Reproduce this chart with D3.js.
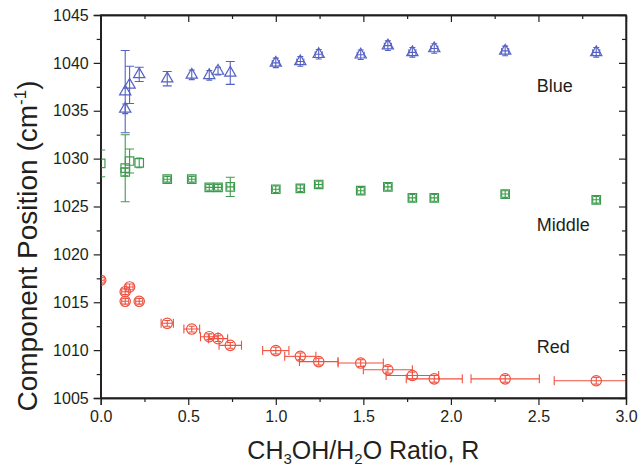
<!DOCTYPE html>
<html>
<head>
<meta charset="utf-8">
<script src="https://cdn.jsdelivr.net/npm/d3@7"></script>
<style>
body { margin: 0; background: #fff; }
text { font-family: Arial, 'Liberation Sans', Helvetica, sans-serif; fill: #231f20; }
</style>
</head>
<body>
<svg id="chart"></svg>
<script>
const ratio = [0, 0.14, 0.14, 0.165, 0.22, 0.38, 0.52, 0.62, 0.67, 0.74, 1.0, 1.14, 1.245, 1.485, 1.64, 1.78, 1.905, 2.31, 2.83],
redPos = [1017.3, 1016.1, 1015.1, 1016.6, 1015.1, 1012.8, 1012.2, 1011.4, 1011.2, 1010.5, 1009.95, 1009.35, 1008.8, 1008.65, 1007.95, 1007.35, 1007.0, 1007.0, 1006.8],
redErrX = [0.02, 0.02, 0.02, 0.02, 0.02, 0.035, 0.045, 0.05, 0.055, 0.064, 0.075, 0.089, 0.11, 0.129, 0.14, 0.15, 0.16, 0.195, 0.24],
redErrY = [0.3, 0.3, 0.3, 0.3, 0.3, 0.3, 0.3, 0.3, 0.3, 0.3, 0.35, 0.35, 0.35, 0.35, 0.35, 0.35, 0.35, 0.35, 0.35],
greenPos = [1029.5, 1029.0, 1028.6, 1029.75, 1029.55, 1027.85, 1027.85, 1027.0, 1027.0, 1027.05, 1026.8, 1026.9, 1027.3, 1026.65, 1027.05, 1025.9, 1025.9, 1026.3, 1025.7],
greenErrX = [0, 0, 0, 0, 0, 0.02, 0.02, 0.02, 0.02, 0.02, 0.02, 0.02, 0.02, 0.02, 0.02, 0.02, 0.02, 0.02, 0.02],
greenErrY = [1.4, 3.5, 0.4, 1.25, 0.5, 0.3, 0.3, 0.3, 0.3, 1.0, 0.35, 0.35, 0.35, 0.35, 0.35, 0.35, 0.35, 0.35, 0.35],
blueRatio = ratio.slice(1),
bluePos = [1035.2, 1037.0, 1037.7, 1038.8, 1038.35, 1038.75, 1038.7, 1039.15, 1038.95, 1040.0, 1040.15, 1040.9, 1040.85, 1041.8, 1041.1, 1041.5, 1041.25, 1041.1],
blueErrX = [0, 0, 0, 0, 0, 0, 0, 0, 0, 0.02, 0.02, 0.02, 0.02, 0.02, 0.02, 0.02, 0.02, 0.02],
blueErrY = [0.5, 4.3, 1.95, 0.75, 0.75, 0.5, 0.5, 0.4, 1.2, 0.5, 0.5, 0.5, 0.5, 0.5, 0.5, 0.5, 0.5, 0.5],
xTicks = [0, 0.5, 1.0, 1.5, 2.0, 2.5, 3.0],
yTicks = [1005, 1010, 1015, 1020, 1025, 1030, 1035, 1040, 1045],
seriesNames = ['Blue', 'Middle', 'Red'],
labelPos = [1037.0, 1022.4, 1009.7];

const margin = {top: 15, right: 14, bottom: 70, left: 100.7},
width = 640 - margin.left - margin.right,
height = 468 - margin.top - margin.bottom;

const x = d3.scaleLinear().domain([0, 3]).range([0, width]);
const y = d3.scaleLinear().domain([1005, 1045]).range([height, 0]);

const svg = d3.select('#chart')
.attr('width', 640)
.attr('height', 468);

const chart = svg.append('g')
.attr('transform', `translate(${margin.left},${margin.top})`);

svg.append('defs').append('clipPath')
.attr('id', 'plot-clip')
.append('rect')
.attr('width', width)
.attr('height', height);

const minorX = d3.range(0.25, 3, 0.5),
minorY = d3.range(1007.5, 1045, 5);

const axisStyle = (g) => {
  g.selectAll('path').attr('stroke', '#231f20').attr('stroke-width', 1.3);
  g.selectAll('line').attr('stroke', '#231f20').attr('stroke-width', 1.2);
  g.selectAll('text').style('font-size', '16px').attr('fill', '#231f20');
};

chart.append('g')
.attr('transform', `translate(0,${height})`)
.call(d3.axisBottom(x).tickValues(xTicks).tickFormat(d3.format('.1f')).tickSize(7).tickPadding(6))
.call(axisStyle);

chart.append('g')
.attr('transform', `translate(0,${height})`)
.call(d3.axisBottom(x).tickValues(minorX).tickFormat('').tickSize(4).tickSizeOuter(0))
.call(axisStyle);

chart.append('g')
.call(d3.axisLeft(y).tickValues(yTicks).tickFormat(d3.format('d')).tickSize(7).tickPadding(5))
.call(axisStyle);

chart.append('g')
.call(d3.axisLeft(y).tickValues(minorY).tickFormat('').tickSize(4).tickSizeOuter(0))
.call(axisStyle);

chart.append('g')
.call(d3.axisTop(x).tickValues(xTicks).tickFormat('').tickSize(-7).tickSizeOuter(0))
.call(axisStyle);

chart.append('g')
.call(d3.axisTop(x).tickValues(minorX).tickFormat('').tickSize(-4).tickSizeOuter(0))
.call(axisStyle);

chart.append('g')
.attr('transform', `translate(${width},0)`)
.call(d3.axisRight(y).tickValues(yTicks).tickFormat('').tickSize(-7).tickSizeOuter(0))
.call(axisStyle);

chart.append('g')
.attr('transform', `translate(${width},0)`)
.call(d3.axisRight(y).tickValues(minorY).tickFormat('').tickSize(-4).tickSizeOuter(0))
.call(axisStyle);

const series = [
  {name: seriesNames[0], color: '#5562c4', shape: d3.symbolTriangle, size: 55, r: blueRatio, v: bluePos, ex: blueErrX, ey: blueErrY},
  {name: seriesNames[1], color: '#3d9b4c', shape: d3.symbolSquare, size: 72, r: ratio, v: greenPos, ex: greenErrX, ey: greenErrY},
  {name: seriesNames[2], color: '#f0513f', shape: d3.symbolCircle, size: 85, r: ratio, v: redPos, ex: redErrX, ey: redErrY}
];

const plot = chart.append('g')
.attr('clip-path', 'url(#plot-clip)');

series.forEach((s) => {
  const pts = s.r.map((r, i) => ({r: r, v: s.v[i], ex: s.ex[i], ey: s.ey[i]}));
  const g = plot.append('g')
    .attr('stroke', s.color)
    .attr('stroke-width', 1.1)
    .attr('fill', 'none');

  pts.forEach((d) => {
    const cx = x(d.r), cy = y(d.v);
    if (d.ey > 0) {
      const cap = d.ey > 0.6 ? 4.5 : 3;
      g.append('line').attr('x1', cx).attr('x2', cx).attr('y1', y(d.v - d.ey)).attr('y2', y(d.v + d.ey));
      g.append('line').attr('x1', cx - cap).attr('x2', cx + cap).attr('y1', y(d.v - d.ey)).attr('y2', y(d.v - d.ey));
      g.append('line').attr('x1', cx - cap).attr('x2', cx + cap).attr('y1', y(d.v + d.ey)).attr('y2', y(d.v + d.ey));
    }
    if (d.ex > 0) {
      const cap = d.ex > 0.03 ? 4.5 : 3;
      g.append('line').attr('x1', x(d.r - d.ex)).attr('x2', x(d.r + d.ex)).attr('y1', cy).attr('y2', cy);
      g.append('line').attr('x1', x(d.r - d.ex)).attr('x2', x(d.r - d.ex)).attr('y1', cy - cap).attr('y2', cy + cap);
      g.append('line').attr('x1', x(d.r + d.ex)).attr('x2', x(d.r + d.ex)).attr('y1', cy - cap).attr('y2', cy + cap);
    }
  });

  g.selectAll('.marker')
    .data(pts)
    .enter().append('path')
    .attr('class', 'marker')
    .attr('d', d3.symbol().type(s.shape).size(s.size))
    .attr('transform', (d) => `translate(${x(d.r)},${y(d.v)})`)
    .attr('stroke-width', 1.2);
});

chart.append('rect')
.attr('width', width)
.attr('height', height)
.attr('fill', 'none')
.attr('stroke', '#231f20')
.attr('stroke-width', 1.3);

chart.append('g')
.selectAll('text')
.data(seriesNames)
.enter().append('text')
.attr('x', x(2.49))
.attr('y', (d, i) => y(labelPos[i]))
.style('font-size', '18px')
.text((d) => d);

const xTitle = svg.append('text')
.attr('x', margin.left + width / 2)
.attr('y', 459)
.attr('text-anchor', 'middle')
.style('font-size', '25px');
xTitle.append('tspan').text('CH');
xTitle.append('tspan').attr('dy', 5).style('font-size', '15px').text('3');
xTitle.append('tspan').attr('dy', -5).text('OH/H');
xTitle.append('tspan').attr('dy', 5).style('font-size', '15px').text('2');
xTitle.append('tspan').attr('dy', -5).text('O Ratio, R');

const yTitle = svg.append('text')
.attr('transform', 'translate(37,246) rotate(-90)')
.attr('text-anchor', 'middle')
.style('font-size', '28px');
yTitle.append('tspan').text('Component Position (cm');
yTitle.append('tspan').attr('dy', -11).style('font-size', '17px').text('-1');
yTitle.append('tspan').attr('dy', 11).text(')');
</script>
</body>
</html>
